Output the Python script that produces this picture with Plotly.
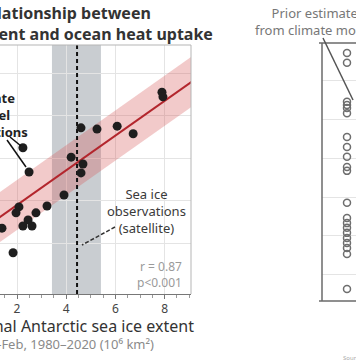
import plotly.graph_objects as go

# ---------------- data ----------------
# Left panel: model sea-ice extent (10^6 km^2) vs ocean heat uptake (arbitrary units)
model_ice_extent = [7.89, 7.93, 4.60, 5.25, 6.07, 6.72, 2.24, 4.20, 4.68, 4.60, 2.49,
                    3.91, 3.22, 2.08, 1.96, 2.77, 2.45, 2.24, 2.61, 1.39, 1.84]
model_heat_uptake = [4.55, 4.44, 3.71, 3.68, 3.75, 3.57, 3.24, 3.02, 2.86, 2.65, 2.67,
                     2.13, 1.87, 1.85, 1.71, 1.71, 1.54, 1.40, 1.40, 1.35, 0.77]
fit_x = [0.5, 9.5]
fit_y = [1.28, 4.96]
band_upper = [1.87, 5.55]
band_lower = [0.69, 4.37]
obs_mean = 4.44
obs_low = 3.42
obs_high = 5.41
x_ticks = [2, 4, 6, 8]
stats_text = ["r = 0.87", "p&lt;0.001"]

# Right panel: prior estimates of heat uptake from climate models
prior_estimates = [6.69, 6.44, 5.44, 5.36, 5.28, 5.15, 4.54, 4.28, 4.03, 3.77, 3.67,
                   2.85, 2.46, 2.33, 2.21, 2.08, 1.95, 1.82, 1.69, 1.54, 0.64]

W, H = 356, 364
def px(x):
    return x / W
def py(y):
    return 1 - y / H

GRID = "#e4e4e4"
FONT = "Noto Sans"

fig = go.Figure()

# pink confidence band
fig.add_trace(go.Scatter(
    x=fit_x + fit_x[::-1], y=band_upper + band_lower[::-1],
    fill="toself", fillcolor="rgba(214,90,90,0.32)", line=dict(width=0),
    mode="lines", hoverinfo="skip", showlegend=False, xaxis="x", yaxis="y"))
# regression line
fig.add_trace(go.Scatter(
    x=fit_x, y=fit_y, mode="lines", line=dict(color="#b3262d", width=2),
    showlegend=False, xaxis="x", yaxis="y"))
# observed mean dashed line
fig.add_trace(go.Scatter(
    x=[obs_mean, obs_mean], y=[-0.2, 5.66], mode="lines",
    line=dict(color="#111111", width=2, dash="4px,3px"),
    showlegend=False, xaxis="x", yaxis="y"))
# model points
fig.add_trace(go.Scatter(
    x=model_ice_extent, y=model_heat_uptake, mode="markers",
    marker=dict(color="#1e1e1e", size=9, line=dict(width=0)),
    showlegend=False, xaxis="x", yaxis="y"))
# right panel open circles
fig.add_trace(go.Scatter(
    x=[0] * len(prior_estimates), y=prior_estimates, mode="markers",
    marker=dict(symbol="circle-open", color="#6e6e6e", size=7, line=dict(width=1.5)),
    showlegend=False, xaxis="x2", yaxis="y2"))

shapes = [
    # grey observation band
    dict(type="rect", xref="x", yref="y domain", x0=obs_low, x1=obs_high, y0=0, y1=1,
         fillcolor="#c9cdd1", line=dict(width=0), layer="below"),
    # left panel frame top and right
    dict(type="line", xref="paper", yref="paper", x0=0, x1=px(191), y0=py(45), y1=py(45),
         line=dict(color="#b5b5b5", width=1)),
    dict(type="line", xref="paper", yref="paper", x0=px(191), x1=px(191), y0=py(45), y1=py(294),
         line=dict(color="#b5b5b5", width=1)),
    # right panel frame
    dict(type="line", xref="paper", yref="paper", x0=px(319), x1=px(380), y0=py(43), y1=py(43),
         line=dict(color="#6a6a6a", width=1.5)),
    dict(type="line", xref="paper", yref="paper", x0=px(319), x1=px(380), y0=py(301), y1=py(301),
         line=dict(color="#6a6a6a", width=1.5)),
    dict(type="line", xref="paper", yref="paper", x0=px(322), x1=px(322), y0=py(43), y1=py(301),
         line=dict(color="#6a6a6a", width=1.5)),
    # leader line prior estimates
    dict(type="line", xref="paper", yref="paper", x0=px(323), x1=px(353), y0=py(38), y1=py(100),
         line=dict(color="#555555", width=1.5)),
    # leader lines climate model simulations
    dict(type="line", xref="paper", yref="paper", x0=px(10), x1=px(21), y0=py(137), y1=py(146),
         line=dict(color="#111111", width=1.5)),
    dict(type="line", xref="paper", yref="paper", x0=px(7), x1=px(26), y0=py(140), y1=py(167),
         line=dict(color="#111111", width=1.5)),
    # dashed leader for observations
    dict(type="line", xref="paper", yref="paper", x0=px(115), x1=px(82), y0=py(227), y1=py(245),
         line=dict(color="#333333", width=1.5, dash="4px,2px")),
]

annotations = [
    dict(text="<b>Relationship between<br>sea ice extent and ocean heat uptake</b>",
         xref="paper", yref="paper", x=px(215), y=py(0), xanchor="right", yanchor="top",
         align="center", showarrow=False, font=dict(family=FONT, size=16, color="#333333")),
    dict(text="Prior estimates<br>from climate models",
         xref="paper", yref="paper", x=px(318), y=py(21), xanchor="center", yanchor="middle",
         align="center", showarrow=False, font=dict(family=FONT, size=13, color="#777777")),
    dict(text="<b>Climate<br>model<br>simulations</b>",
         xref="paper", yref="paper", x=px(30), y=py(115), xanchor="right", yanchor="middle",
         align="center", showarrow=False, font=dict(family=FONT, size=13, color="#222222")),
    dict(text="Sea ice<br>observations<br>(satellite)",
         xref="paper", yref="paper", x=px(146), y=py(211), xanchor="center", yanchor="middle",
         align="center", showarrow=False, font=dict(family=FONT, size=13, color="#3a3a3a")),
    dict(text="<br>".join(stats_text),
         xref="paper", yref="paper", x=px(184), y=py(274), xanchor="right", yanchor="middle",
         align="right", showarrow=False, font=dict(family=FONT, size=12, color="#9a9a9a")),
    dict(text="Minimal Antarctic sea ice extent",
         xref="paper", yref="paper", x=px(196), y=py(326), xanchor="right", yanchor="middle",
         showarrow=False, font=dict(family=FONT, size=16, color="#333333")),
    dict(text="Jan–Feb, 1980–2020 (10⁶ km²)",
         xref="paper", yref="paper", x=px(156), y=py(344), xanchor="right", yanchor="middle",
         showarrow=False, font=dict(family=FONT, size=13, color="#8a8a8a")),
    dict(text="Source: Nature",
         xref="paper", yref="paper", x=px(341), y=py(358), xanchor="left", yanchor="middle",
         showarrow=False, font=dict(family=FONT, size=6, color="#aaaaaa")),
]

fig.update_layout(
    width=W, height=H, margin=dict(l=0, r=0, t=0, b=0),
    paper_bgcolor="white", plot_bgcolor="rgba(0,0,0,0)",
    showlegend=False, shapes=shapes, annotations=annotations,
    font=dict(family=FONT),
    xaxis=dict(domain=[0, px(191)], range=[1.309, 9.07], tickvals=x_ticks,
               showgrid=True, gridcolor=GRID, gridwidth=1, zeroline=False,
               showline=True, linecolor="#777777", linewidth=1,
               ticks="outside", ticklen=4, tickcolor="#777777",
               minor=dict(dtick=0.5, ticks="outside", ticklen=3, tickcolor="#999999", showgrid=False),
               tickfont=dict(family=FONT, size=12, color="#444444"), anchor="y"),
    yaxis=dict(domain=[py(294), py(45)], range=[-0.2, 5.659], tickvals=[1, 2, 3, 4, 5],
               showgrid=True, gridcolor=GRID, zeroline=False, showticklabels=False,
               showline=False, anchor="x"),
    xaxis2=dict(domain=[px(322), 1], range=[-1, 0.36], showgrid=False, zeroline=False,
                showticklabels=False, showline=False, anchor="y2"),
    yaxis2=dict(domain=[py(301), py(43)], range=[0.333, 6.949], tickvals=[1, 2, 3, 4, 5, 6],
                showgrid=True, gridcolor=GRID, zeroline=False, showticklabels=False,
                showline=False, anchor="x2"),
)

fig.write_html("out.html", config={"displayModeBar": False},
               post_script="document.body.style.margin='0';document.body.style.overflow='hidden';")
